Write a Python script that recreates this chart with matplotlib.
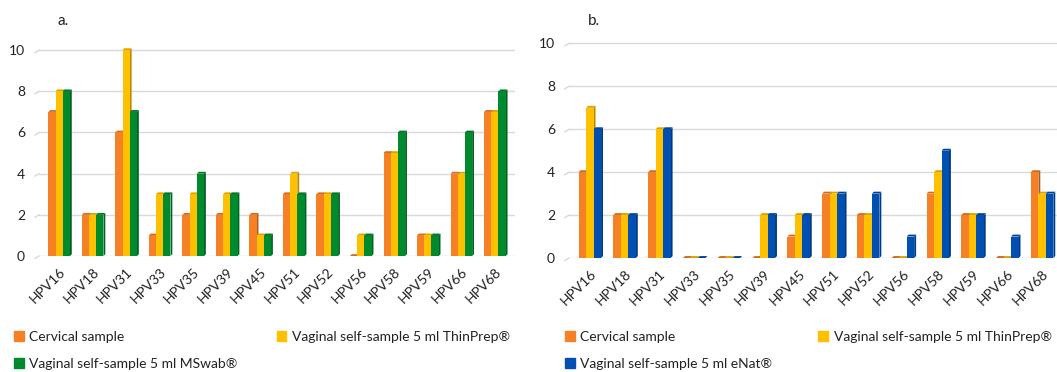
import numpy as np
import matplotlib.pyplot as plt
from matplotlib.patches import Patch
import matplotlib.colors as mcolors

plt.rcParams['font.family'] = ['Lato', 'DejaVu Sans']

# Data
types = ["HPV16", "HPV18", "HPV31", "HPV33", "HPV35", "HPV39", "HPV45",
         "HPV51", "HPV52", "HPV56", "HPV58", "HPV59", "HPV66", "HPV68"]

# panel a
cervical_a = [7, 2, 6, 1, 2, 2, 2, 3, 3, 0, 5, 1, 4, 7]
thinprep_a = [8, 2, 10, 3, 3, 3, 1, 4, 3, 1, 5, 1, 4, 7]
mswab_a = [8, 2, 7, 3, 4, 3, 1, 3, 3, 1, 6, 1, 6, 8]

# panel b
cervical_b = [4, 2, 4, 0, 0, 0, 1, 3, 2, 0, 3, 2, 0, 4]
thinprep_b = [7, 2, 6, 0, 0, 2, 2, 3, 2, 0, 4, 2, 0, 3]
enat_b = [6, 2, 6, 0, 0, 2, 2, 3, 3, 1, 5, 2, 1, 3]

ORANGE = "#F58025"
YELLOW = "#FFC000"
GREEN = "#008A2E"
BLUE = "#0050B4"

W = 0.215    # face width
D = 0.055    # depth in x
DY = 0.09    # depth in y


def shade(c, f):
    r, g, b = mcolors.to_rgb(c)
    return (r * f, g * f, b * f)


def bars3d(ax, series, colors):
    n = len(series)
    x = np.arange(len(types))
    for i, (vals, col) in enumerate(zip(series, colors)):
        xs = x + (i - (n - 1) / 2) * W
        for xc, h in zip(xs, vals):
            l, r = xc - W / 2, xc + W / 2
            ax.fill([r, r + D, r + D, r], [0, DY, h + DY, h],
                    color=shade(col, 0.72), lw=0, zorder=3)
            ax.fill([l, l + D, r + D, r], [h, h + DY, h + DY, h],
                    color=shade(col, 0.85), lw=0, zorder=3)
            ax.fill([l, r, r, l], [0, 0, h, h], color=col, lw=0, zorder=3)


def style(ax):
    ax.set_xlim(-0.6, len(types) - 0.4)
    ax.set_ylim(0, 10.25)
    ax.set_yticks([0, 2, 4, 6, 8, 10])
    ax.set_xticks(np.arange(len(types)))
    ax.set_xticklabels(types, rotation=45, ha="right", rotation_mode="anchor",
                       fontsize=9.5, color="#222222")
    ax.tick_params(length=0, labelsize=10, labelcolor="#222222")
    ax.tick_params(axis="x", pad=7)
    ax.tick_params(axis="y", pad=10)
    for s in ax.spines.values():
        s.set_visible(False)
    ax.grid(axis="y", color="#D9D9D9", lw=1.0, zorder=0)
    ax.set_axisbelow(True)
    # small slanted floor edge at the left of each gridline
    for yv in ax.get_yticks():
        ax.plot([-0.72, -0.6], [yv - 0.12, yv], color="#D9D9D9", lw=1.0,
                clip_on=False, zorder=0)


fig = plt.figure(figsize=(10.57, 3.72), dpi=100)


# pixel helpers
def rect(x0, x1, y_top, y_bot):
    return [x0 / 1057, 1 - y_bot / 372, (x1 - x0) / 1057, (y_bot - y_top) / 372]


ax1 = fig.add_axes(rect(39, 515, 45, 256))
ax2 = fig.add_axes(rect(569, 1063, 38, 258))

bars3d(ax1, [cervical_a, thinprep_a, mswab_a], [ORANGE, YELLOW, GREEN])
bars3d(ax2, [cervical_b, thinprep_b, enat_b], [ORANGE, YELLOW, BLUE])
style(ax1)
style(ax2)

fig.text(57 / 1057, 1 - 21 / 372, "a.", fontsize=11, color="#222222",
         ha="left", va="center")
fig.text(588 / 1057, 1 - 21 / 372, "b.", fontsize=11, color="#222222",
         ha="left", va="center")

h1 = [Patch(color=ORANGE), Patch(color=GREEN), Patch(color=YELLOW)]
l1 = ["Cervical sample", "Vaginal self-sample 5 ml MSwab\u00ae",
      "Vaginal self-sample 5 ml ThinPrep\u00ae"]
h2 = [Patch(color=ORANGE), Patch(color=BLUE), Patch(color=YELLOW)]
l2 = ["Cervical sample", "Vaginal self-sample 5 ml eNat\u00ae",
      "Vaginal self-sample 5 ml ThinPrep\u00ae"]

leg_kw = dict(ncol=2, frameon=False, fontsize=10, handlelength=0.7,
              handleheight=0.7, handletextpad=0.4, labelspacing=1.05,
              borderaxespad=0, borderpad=0, labelcolor="#222222")
fig.legend(h1, l1, loc="upper left", bbox_to_anchor=(14 / 1057, 1 - 331 / 372),
           columnspacing=2.8, **leg_kw)
fig.legend(h2, l2, loc="upper left", bbox_to_anchor=(565 / 1057, 1 - 331 / 372),
           columnspacing=3.3, **leg_kw)

fig.savefig("out.png", dpi=100)
